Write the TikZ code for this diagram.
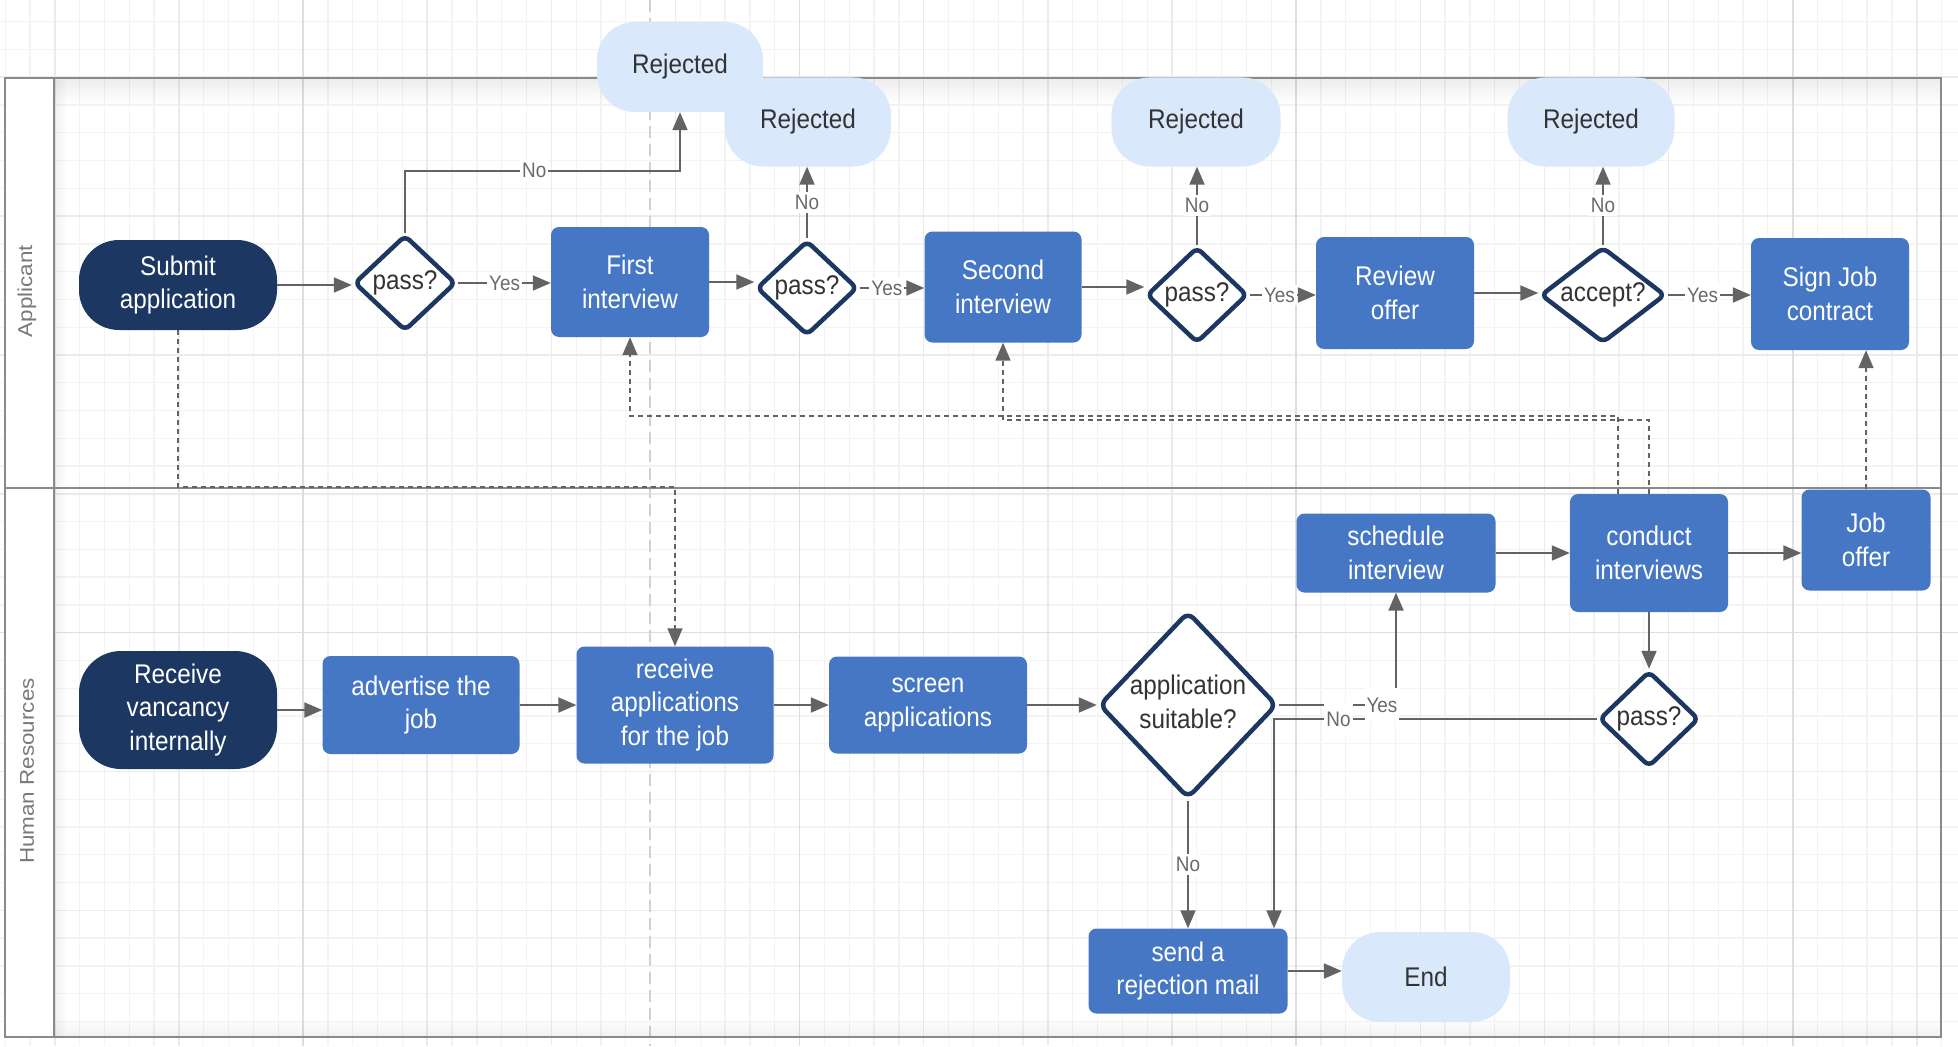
\documentclass[tikz,border=0pt]{standalone}
\usepackage{fontspec}
\setmainfont{Liberation Sans}[FakeStretch=0.9]
\newfontfamily\lanefont{Liberation Sans}[FakeStretch=1.12]
\usetikzlibrary{shapes.geometric,arrows.meta,fadings}

\definecolor{navy}{HTML}{1C3762}
\definecolor{boxblue}{HTML}{4677C4}
\definecolor{paleblue}{HTML}{DAE8FC}
\definecolor{txtdark}{HTML}{333333}
\definecolor{linegray}{HTML}{636363}
\definecolor{labelgray}{HTML}{6A6A6A}
\definecolor{poolgray}{HTML}{8A8A8A}
\definecolor{gridminor}{HTML}{F3F3F3}
\definecolor{gridmajor}{HTML}{EBEBEB}
\definecolor{gridsuper}{HTML}{DEDEDE}
\definecolor{pagebreak}{HTML}{D2D2D2}

\newcommand{\nodefont}{\fontsize{27}{33.7}\selectfont}
\newcommand{\lblfont}{\fontsize{21}{25}\selectfont}
\newcommand{\lanelblfont}{\lanefont\fontsize{20}{24}\selectfont}
% zero-width text so that diamonds take their size from minimum width/height only
\newcommand{\dtext}[1]{\makebox[0pt]{\begin{tabular}{@{}c@{}}#1\end{tabular}}}

\tikzfading[name=shadow down, top color=transparent!0, bottom color=transparent!100]
\tikzfading[name=shadow up, top color=transparent!100, bottom color=transparent!0]
\tikzfading[name=shadow right, left color=transparent!0, right color=transparent!100]

\pgfdeclarelayer{canvas}
\pgfsetlayers{canvas,main}

\tikzset{
  base/.style={align=center, font=\nodefont, inner sep=0pt},
  term/.style={base, fill=navy, text=white, rounded corners=40pt},
  endterm/.style={base, fill=paleblue, text=txtdark, rounded corners=38pt},
  task/.style={base, fill=boxblue, text=white, rounded corners=8pt},
  gate/.style={base, diamond, draw=navy, line width=4.5pt, fill=white, text=txtdark, rounded corners=6pt},
  flow/.style={draw=linegray, line width=2pt, -{Triangle[length=18pt,width=15pt]}},
  link/.style={flow, line width=1.6pt, dash pattern=on 5pt off 4pt},
  lbl/.style={font=\lblfont, text=labelgray, fill=white, inner xsep=2pt, inner ysep=3pt},
  lanelbl/.style={font=\lanelblfont, text=labelgray!90!white, rotate=90},
}

\begin{document}
\begin{tikzpicture}[x=1pt,y=-1pt]
\useasboundingbox (0,0) rectangle (1958,1046);

% ---------- canvas: grid, page break, swimlane pool ----------
\begin{pgfonlayer}{canvas}
  \fill[white] (0,0) rectangle (1958,1046);
  \foreach \k in {0,...,78}
    \draw[gridminor, line width=1.3pt] ({5.17+24.826*\k},0) -- ({5.17+24.826*\k},1046);
  \foreach \k in {0,...,36}
    \draw[gridminor, line width=1.3pt] (0,{21.7+27.77*\k}) -- (1958,{21.7+27.77*\k});
  \foreach \k in {2,7,...,77}
    \draw[gridmajor, line width=1.5pt] ({5.17+24.826*\k},0) -- ({5.17+24.826*\k},1046);
  \foreach \k in {2,7,...,32}
    \draw[gridmajor, line width=1.5pt] (0,{21.7+27.77*\k}) -- (1958,{21.7+27.77*\k});
  \foreach \k in {12,32,52,72}
    \draw[gridsuper, line width=1.7pt] ({5.17+24.826*\k},0) -- ({5.17+24.826*\k},1046);
  \draw[gridsuper, line width=1.7pt] (0,{21.7+27.77*22}) -- (1958,{21.7+27.77*22});

  \draw[pagebreak, line width=2.5pt, dash pattern=on 12pt off 6pt] (650,0) -- (650,1046);

  % lane header column
  \fill[white] (5,78) rectangle (54,1037);
  % soft shadows inside the pool
  \fill[black, opacity=0.07, path fading=shadow down] (54,79) rectangle (1940,104);
  \fill[black, opacity=0.06, path fading=shadow right] (54,79) rectangle (66,1036);
  \fill[black, opacity=0.05, path fading=shadow up] (54,1018) rectangle (1940,1036);

  \draw[poolgray, line width=2.5pt] (5,78) rectangle (1941,1037);
  \draw[poolgray, line width=2.5pt] (54,78) -- (54,1037);
  \draw[poolgray, line width=2pt] (5,488) -- (1941,488);

  \node[lanelbl] (laneA) at (27,291) {Applicant};
  \node[lanelbl] (laneH) at (27,771) {Human Resources};
\end{pgfonlayer}

% ---------- Applicant lane ----------
\node[endterm, minimum width=166pt, minimum height=90pt] (rej1) at (680,67) {Rejected};
\node[endterm, minimum width=166pt, minimum height=89pt] (rej2) at (808,122) {Rejected};
\node[endterm, minimum width=169pt, minimum height=89pt] (rej3) at (1196,122) {Rejected};
\node[endterm, minimum width=167pt, minimum height=89pt] (rej4) at (1591,122) {Rejected};

\node[term, minimum width=198pt, minimum height=90pt] (submit) at (178,285) {Submit\\application};
\node[gate, minimum width=102pt, minimum height=96pt] (pass1) at (405,283) {\dtext{pass?}};
\node[task, minimum width=158pt, minimum height=110pt] (first) at (630,282) {First\\interview};
\node[gate, minimum width=101pt, minimum height=95pt] (pass2) at (807,288) {\dtext{pass?}};
\node[task, minimum width=157pt, minimum height=111pt] (second) at (1003,287) {Second\\interview};
\node[gate, minimum width=101pt, minimum height=96pt] (pass3) at (1197,295) {\dtext{pass?}};
\node[task, minimum width=158pt, minimum height=112pt] (review) at (1395,293) {Review\\offer};
\node[gate, minimum width=125pt, minimum height=96pt] (accept) at (1603,295) {\dtext{accept?}};
\node[task, minimum width=158pt, minimum height=112pt] (sign) at (1830,294) {Sign Job\\contract};

% ---------- Human Resources lane ----------
\node[term, minimum width=198pt, minimum height=118pt, rounded corners=42pt] (recvvac) at (178,710) {Receive\\vancancy\\internally};
\node[task, minimum width=197pt, minimum height=98pt] (advert) at (421,705) {advertise the\\job};
\node[task, minimum width=197pt, minimum height=117pt] (recvapp) at (675,705) {receive\\applications\\for the job};
\node[task, minimum width=198pt, minimum height=97pt] (screen) at (928,705) {screen\\applications};
\node[gate, minimum width=178pt, minimum height=187pt, rounded corners=8pt] (suit) at (1188,705) {\dtext{application\\suitable?}};
\node[task, minimum width=199pt, minimum height=79pt] (sched) at (1396,553) {schedule\\interview};
\node[task, minimum width=158pt, minimum height=118pt] (conduct) at (1649,553) {conduct\\interviews};
\node[task, minimum width=129pt, minimum height=101pt] (joboffer) at (1866,540) {Job\\offer};
\node[gate, minimum width=100pt, minimum height=96pt] (pass4) at (1649,719) {\dtext{pass?}};
\node[task, minimum width=199pt, minimum height=85pt] (mail) at (1188,971) {send a\\rejection mail};
\node[endterm, minimum width=168pt, minimum height=90pt] (end) at (1426,977) {End};

\coordinate (laneY) at (0,487);
\coordinate (rowA) at (0,416);
\coordinate (rowB) at (0,420);

% ---------- applicant flow ----------
\draw[flow] (submit.east) -- (submit.east -| pass1.west);
\draw[flow] (pass1.east) -- node[lbl]{Yes} (pass1.east -| first.west);
\draw[flow] (pass1.north) -- ++(0,-62) -| node[lbl, pos=0.235]{No} (rej1.south);
\draw[flow] (first.east) -- (first.east -| pass2.west);
\draw[flow] (pass2.north) -- node[lbl]{No} (pass2.north |- rej2.south);
\draw[flow] (pass2.east) -- node[lbl, pos=0.42]{Yes} (pass2.east -| second.west);
\draw[flow] (second.east) -- (second.east -| pass3.west);
\draw[flow] (pass3.north) -- node[lbl]{No} (pass3.north |- rej3.south);
\draw[flow] (pass3.east) -- node[lbl, pos=0.45]{Yes} (pass3.east -| review.west);
\draw[flow] (review.east) -- (review.east -| accept.west);
\draw[flow] (accept.north) -- node[lbl]{No} (accept.north |- rej4.south);
\draw[flow] (accept.east) -- node[lbl, pos=0.42]{Yes} (accept.east -| sign.west);

% ---------- HR flow ----------
\draw[flow] (recvvac.east) -- (recvvac.east -| advert.west);
\draw[flow] (advert.east) -- (advert.east -| recvapp.west);
\draw[flow] (recvapp.east) -- (recvapp.east -| screen.west);
\draw[flow] (screen.east) -- (screen.east -| suit.west);
\draw[flow] (suit.east) -| coordinate[pos=0.44] (yesAt) (sched.south);
\draw[flow] (pass4.west) -| coordinate[pos=0.4] (noAt) ([xshift=86pt]mail.north);
\node[lbl, inner ysep=10pt] (yesLbl) at (yesAt) {Yes};
\node[lbl, inner ysep=10pt] (noLbl) at (noAt) {No};
\draw[flow] (suit.south) -- node[lbl]{No} (mail.north);
\draw[flow] (mail.east) -- (mail.east -| end.west);
\draw[flow] (sched.east) -- (sched.east -| conduct.west);
\draw[flow] (conduct.east) -- (conduct.east -| joboffer.west);
\draw[flow] (conduct.south) -- (pass4.north);

% ---------- message links between lanes ----------
\draw[link] (submit.south) |- (recvapp.north |- laneY) -- (recvapp.north);
\draw[link] ([xshift=-31pt]conduct.north) |- (first.south |- rowA) -- (first.south);
\draw[link] (conduct.north) |- (second.south |- rowB) -- (second.south);
\draw[link] (joboffer.north) -- (joboffer.north |- sign.south);

\end{tikzpicture}
\end{document}
